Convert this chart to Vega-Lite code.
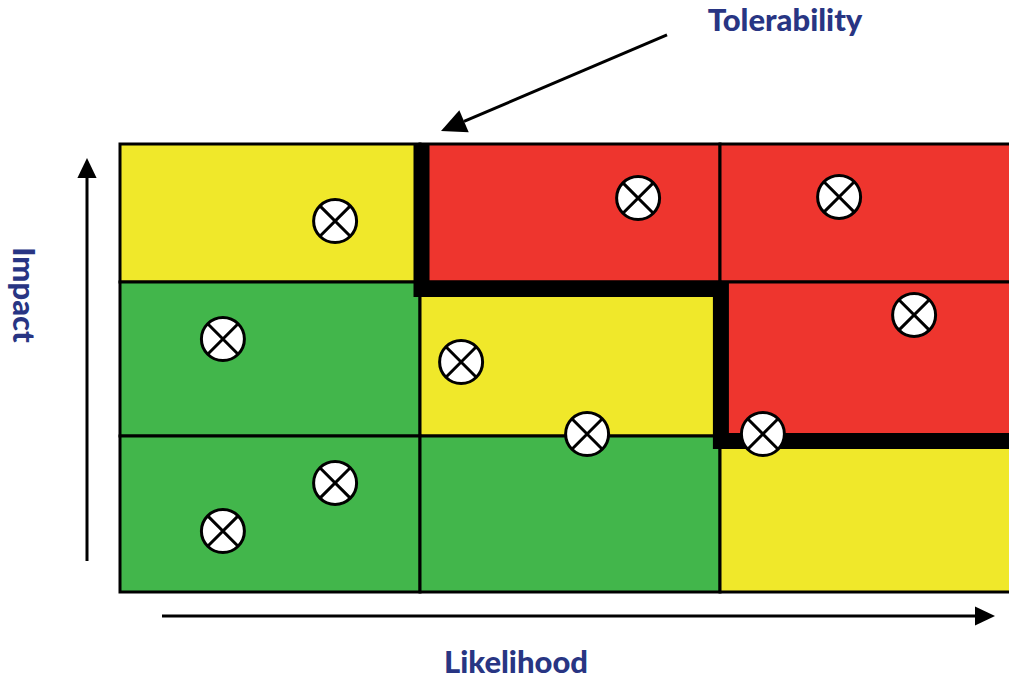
{
  "$schema": "https://vega.github.io/schema/vega-lite/v6.json",
  "width": 1009,
  "height": 681,
  "autosize": {"type": "none"},
  "padding": 0,
  "background": "white",
  "config": {"view": {"stroke": null}},
  "datasets": {
    "cells": [
      {"col": 0, "x1": 0, "x2": 1, "y1": 2.076, "y2": 3.0, "zone": "medium"},
      {"col": 1, "x1": 1, "x2": 2, "y1": 2.076, "y2": 3.0, "zone": "high"},
      {"col": 2, "x1": 2, "x2": 3.2, "y1": 2.076, "y2": 3.0, "zone": "high"},
      {"col": 0, "x1": 0, "x2": 1, "y1": 1.045, "y2": 2.076, "zone": "low"},
      {"col": 1, "x1": 1, "x2": 2, "y1": 1.045, "y2": 2.076, "zone": "medium"},
      {"col": 2, "x1": 2, "x2": 3.2, "y1": 1.045, "y2": 2.076, "zone": "high"},
      {"col": 0, "x1": 0, "x2": 1, "y1": 0, "y2": 1.045, "zone": "low"},
      {"col": 1, "x1": 1, "x2": 2, "y1": 0, "y2": 1.045, "zone": "low"},
      {"col": 2, "x1": 2, "x2": 3.2, "y1": 0, "y2": 1.045, "zone": "medium"}
    ],
    "tolerance": [
      {"i": 0, "likelihood": 1.005, "impact": 3.0},
      {"i": 1, "likelihood": 1.005, "impact": 2.029},
      {"i": 2, "likelihood": 2.003, "impact": 2.029},
      {"i": 3, "likelihood": 2.003, "impact": 1.011},
      {"i": 4, "likelihood": 3.2, "impact": 1.011}
    ],
    "risks": [
      {"id": 1, "likelihood": 0.717, "impact": 2.484},
      {"id": 2, "likelihood": 1.727, "impact": 2.638},
      {"id": 3, "likelihood": 2.397, "impact": 2.645},
      {"id": 4, "likelihood": 0.343, "impact": 1.694},
      {"id": 5, "likelihood": 1.137, "impact": 1.540},
      {"id": 6, "likelihood": 2.647, "impact": 1.855},
      {"id": 7, "likelihood": 1.557, "impact": 1.058},
      {"id": 8, "likelihood": 2.143, "impact": 1.058},
      {"id": 9, "likelihood": 0.717, "impact": 0.730},
      {"id": 10, "likelihood": 0.343, "impact": 0.408}
    ],
    "arrows": [
      {"name": "impact", "xa": -0.11, "ya": 0.2076, "xb": -0.11, "yb": 2.79, "xt": -0.11, "yt": 2.906, "ang": 0},
      {"name": "likelihood", "xa": 0.14, "ya": -0.1607, "xb": 2.86, "yb": -0.1607, "xt": 2.9167, "yt": -0.1607, "ang": 90},
      {"name": "tolerability", "xa": 1.8233, "ya": 3.73, "xb": 1.1467, "yb": 3.151, "xt": 1.07, "yt": 3.087, "ang": 247}
    ],
    "labels": [
      {"text": "Tolerability", "lx": 2.2167, "ly": 3.815, "rot": 0},
      {"text": "Impact", "lx": -0.3267, "ly": 1.989, "rot": 90},
      {"text": "Likelihood", "lx": 1.32, "ly": -0.48, "rot": 0}
    ]
  },
  "layer": [
    {
      "data": {"name": "cells"},
      "mark": {"type": "rect", "stroke": "black", "strokeWidth": 3, "clip": true},
      "encoding": {
        "x": {"field": "x1", "type": "quantitative", "scale": {"domain": [-0.4, 2.9633], "nice": false, "zero": false}, "axis": null},
        "x2": {"field": "x2"},
        "y": {"field": "y1", "type": "quantitative", "scale": {"domain": [-0.596, 3.964], "nice": false, "zero": false}, "axis": null},
        "y2": {"field": "y2"},
        "color": {"field": "zone", "type": "nominal", "legend": null,
          "scale": {"domain": ["low", "medium", "high"], "range": ["#42B64B", "#F0E82A", "#EE352E"]}}
      }
    },
    {
      "data": {"name": "tolerance"},
      "mark": {"type": "line", "color": "black", "strokeWidth": 16, "strokeCap": "butt", "strokeJoin": "miter", "clip": true},
      "encoding": {
        "x": {"field": "likelihood", "type": "quantitative"},
        "y": {"field": "impact", "type": "quantitative"},
        "order": {"field": "i"}
      }
    },
    {
      "data": {"name": "risks"},
      "mark": {"type": "point", "shape": "circle", "size": 1849, "filled": true, "fill": "white", "stroke": "black", "strokeWidth": 3, "opacity": 1},
      "encoding": {
        "x": {"field": "likelihood", "type": "quantitative"},
        "y": {"field": "impact", "type": "quantitative"}
      }
    },
    {
      "data": {"name": "risks"},
      "mark": {"type": "point", "shape": "M -0.707 -0.707 L 0.707 0.707 M -0.707 0.707 L 0.707 -0.707", "size": 1849, "filled": false, "stroke": "black", "strokeWidth": 3, "opacity": 1},
      "encoding": {
        "x": {"field": "likelihood", "type": "quantitative"},
        "y": {"field": "impact", "type": "quantitative"}
      }
    },
    {
      "data": {"name": "arrows"},
      "mark": {"type": "rule", "color": "black", "strokeWidth": 3},
      "encoding": {
        "x": {"field": "xa", "type": "quantitative"},
        "y": {"field": "ya", "type": "quantitative"},
        "x2": {"field": "xb"},
        "y2": {"field": "yb"}
      }
    },
    {
      "data": {"name": "arrows"},
      "mark": {"type": "point", "shape": "M 0 0 L -0.48 1 L 0.48 1 Z", "filled": true, "color": "black", "opacity": 1},
      "encoding": {
        "x": {"field": "xt", "type": "quantitative"},
        "y": {"field": "yt", "type": "quantitative"},
        "angle": {"field": "ang", "type": "quantitative", "scale": null},
        "size": {"condition": {"test": "datum.name === 'tolerability'", "value": 2500}, "value": 1600}
      }
    },
    {
      "data": {"name": "labels"},
      "mark": {"type": "text", "font": "Lato", "fontWeight": 900, "fontSize": 31, "color": "#283583", "align": "center", "baseline": "middle"},
      "encoding": {
        "x": {"field": "lx", "type": "quantitative"},
        "y": {"field": "ly", "type": "quantitative"},
        "text": {"field": "text"},
        "angle": {"field": "rot", "type": "quantitative", "scale": null}
      }
    }
  ]
}
